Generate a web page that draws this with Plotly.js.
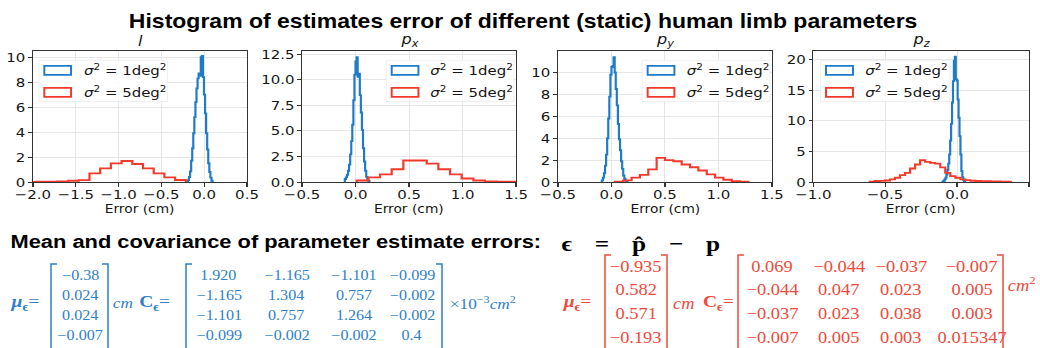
<!DOCTYPE html>
<html><head><meta charset="utf-8">
<script src="https://cdn.plot.ly/plotly-3.0.1.min.js"></script>
<style>
html,body{margin:0;padding:0;background:#fff;overflow:hidden;}
#chart{width:904px;height:348px;transform:scaleX(1.150442);transform-origin:0 0;}
</style></head><body><div id="chart"></div>
<script>
// ---------------- data ----------------
const mainTitle = 'Histogram of estimates error of different (static) human limb parameters';
const subTitles = ['<i>l</i>', '<i>p</i><sub><i>x</i></sub>', '<i>p</i><sub><i>y</i></sub>', '<i>p</i><sub><i>z</i></sub>'];
const legendLabels = ['<i>σ</i><sup>2</sup> = 1deg<sup>2</sup>', '<i>σ</i><sup>2</sup> = 5deg<sup>2</sup>'];
const xAxisTitle = 'Error (cm)';

// l
const lBlueEdges = [-0.19,-0.1775,-0.165,-0.1525,-0.14,-0.1275,-0.115,-0.1025,-0.09,-0.0775,-0.065,-0.0525,-0.04,-0.0275,-0.015,-0.0025,0.01,0.0225,0.035,0.0475,0.06,0.0725,0.085,0.0975];
const lBlueDens  = [0.15,0.4,0.85,1.7,2.7,3.9,5.2,6.4,7.5,8.3,8.7,8.5,10.0,10.1,8.4,7.0,5.5,3.9,2.6,1.5,0.8,0.35,0.1];
const lRedEdges  = [-2.09,-1.965,-1.84,-1.715,-1.59,-1.465,-1.34,-1.215,-1.09,-0.965,-0.84,-0.715,-0.59,-0.465,-0.34,-0.215];
const lRedDens   = [0.01,0.02,0.03,0.05,0.1,0.15,0.69,1.09,1.49,1.68,1.44,1.09,0.69,0.37,0.16];
// p_x
const pxBlueEdges = [-0.10,-0.09,-0.08,-0.07,-0.06,-0.05,-0.04,-0.03,-0.02,-0.01,0.00,0.01,0.02,0.03,0.04,0.05,0.06,0.07,0.08,0.09,0.10,0.11,0.12,0.13];
const pxBlueDens  = [0.3,0.45,0.7,1.1,1.7,2.7,4.0,5.6,8.0,10.5,11.8,12.2,10.3,10.6,8.5,6.8,5.1,3.3,2.0,1.1,0.5,0.25,0.1];
const pxRedEdges  = [0.011,0.12,0.229,0.338,0.447,0.556,0.665,0.774,0.883,0.992,1.101,1.21,1.319,1.428,1.537];
const pxRedDens   = [0.15,0.45,0.75,1.25,2.1,2.1,1.8,1.25,0.75,0.35,0.15,0.06,0.04,0.02];
// p_y
const pyBlueEdges = [-0.09,-0.08,-0.07,-0.06,-0.05,-0.04,-0.03,-0.02,-0.01,0.00,0.01,0.02,0.03,0.04,0.05,0.06,0.07,0.08,0.09,0.10,0.11,0.12,0.13,0.14,0.15];
const pyBlueDens  = [0.15,0.4,0.8,1.5,2.5,4.0,5.8,7.8,9.8,10.5,10.6,11.4,10.0,8.5,7.0,5.3,3.9,2.9,1.9,1.2,0.6,0.3,0.12,0.05];
const pyRedEdges  = [0.032,0.11,0.188,0.266,0.344,0.422,0.5,0.578,0.656,0.734,0.812,0.89,0.968,1.046,1.124,1.202,1.28];
const pyRedDens   = [0.03,0.15,0.4,0.65,1.15,2.2,2.0,1.9,1.6,1.35,1.05,0.7,0.4,0.2,0.08,0.03];
// p_z
const pzBlueEdges = [-0.1,-0.0935,-0.087,-0.0805,-0.074,-0.0675,-0.061,-0.0545,-0.048,-0.0415,-0.035,-0.0285,-0.022,-0.0155,-0.009,-0.0025,0.004,0.0105,0.017,0.0235,0.03,0.0365,0.043,0.0495,0.056];
const pzBlueDens  = [0.1,0.2,0.4,0.7,1.2,2.0,3.0,4.5,6.8,9.5,13.0,16.5,19.8,20.5,16.8,16.6,13.5,10.5,7.5,4.5,1.8,0.8,0.3,0.08];
const pzRedEdges  = [-0.607,-0.572,-0.537,-0.502,-0.467,-0.432,-0.397,-0.362,-0.327,-0.292,-0.257,-0.222,-0.187,-0.152,-0.117,-0.082,-0.047,-0.012,0.023,0.058,0.093,0.128,0.163,0.198,0.233,0.268,0.303,0.338,0.373];
const pzRedDens   = [0.03,0.16,0.18,0.25,0.43,0.7,1.13,1.5,2.2,2.86,3.55,3.3,3.13,3.0,2.4,1.5,0.97,0.7,0.43,0.3,0.2,0.16,0.14,0.12,0.1,0.08,0.06,0.04];

const xRanges = [[-2.0,0.5],[-0.5,1.5],[-0.5,1.5],[-1.0,0.5]];
const yRanges = [[0,10.48],[0,12.8],[0,11.95],[0,21.4]];
const yDticks = [2, 2.5, 2, 5];
const yFormats = ['d', '.1f', 'd', 'd'];

// equations
const header2 = 'Mean and covariance of parameter estimate errors:';
const header2Eq = '<b>ϵ\u2002\u2009\u2009=\u2002\u2009\u2009p\u0302\u2002\u2009\u2009−\u2002\u2009\u2009p</b>';
const muBlue  = ['−0.38','0.024','0.024','−0.007'];
const covBlue = [['1.920','−1.165','−1.101','−0.099'],
                 ['−1.165','1.304','0.757','−0.002'],
                 ['−1.101','0.757','1.264','−0.002'],
                 ['−0.099','−0.002','−0.002','0.4']];
const muRed   = ['−0.935','0.582','0.571','−0.193'];
const covRed  = [['0.069','−0.044','−0.037','−0.007'],
                 ['−0.044','0.047','0.023','0.005'],
                 ['−0.037','0.023','0.038','0.003'],
                 ['−0.007','0.005','0.003','0.015347']];
const muLabel  = '<b><i>μ</i></b><sub><b>ϵ</b></sub>=';
const covLabel = '<b>C</b><sub><b>ϵ</b></sub>=';
const unitMu   = '<i>cm</i>';
const unitCovBlue = '×10<sup>−3</sup><i>cm</i><sup>2</sup>';
const unitCovRed  = '<i>cm</i><sup>2</sup>';

// ---------------- style ----------------
const BLUE = '#1f7bc9', RED = '#f2392b';
const MBLUE = '#2d80c8', MRED = '#f04a3a';
const TXT = '#151515';
const FW = 1040, FH = 348;
const X = px => px / FW;
const Y = py => 1 - py / FH;
const xDomains = [[0.0317,0.2375],[0.2904,0.4962],[0.5365,0.7423],[0.7820,0.9894]];
const yDomain = [0.477, 0.853];
const legendX0 = [0.053, 0.419, 0.419, 0.059];

const blueSets = [[lBlueEdges,lBlueDens],[pxBlueEdges,pxBlueDens],[pyBlueEdges,pyBlueDens],[pzBlueEdges,pzBlueDens]];
const redSets  = [[lRedEdges,lRedDens],[pxRedEdges,pxRedDens],[pyRedEdges,pyRedDens],[pzRedEdges,pzRedDens]];

function stepTrace(edges, vals, color, i) {
  return {
    type: 'scatter', mode: 'lines',
    x: [edges[0]].concat(edges),
    y: [0].concat(vals, [0]),
    xaxis: i === 0 ? 'x' : 'x' + (i + 1),
    yaxis: i === 0 ? 'y' : 'y' + (i + 1),
    line: {color: color, width: 1.9, shape: 'hv'},
    hoverinfo: 'skip'
  };
}

const data = [];
for (let i = 0; i < 4; i++) {
  data.push(stepTrace(blueSets[i][0], blueSets[i][1], BLUE, i));
  data.push(stepTrace(redSets[i][0], redSets[i][1], RED, i));
}

const tickFont = {family: 'DejaVu Sans', size: 13, color: TXT};
const layout = {
  width: 904, height: 348,
  margin: {l: 0, r: 0, t: 0, b: 0},
  paper_bgcolor: '#fff', plot_bgcolor: '#fff',
  showlegend: false,
  title: {text: '<b>' + mainTitle + '</b>', x: 0.503, xanchor: 'center', y: Y(21), yanchor: 'middle',
          font: {family: 'Liberation Sans', size: 20, color: '#000'}},
  annotations: [], shapes: []
};

for (let i = 0; i < 4; i++) {
  const sx = i === 0 ? '' : String(i + 1);
  layout['xaxis' + sx] = {
    domain: xDomains[i], anchor: 'y' + sx, range: xRanges[i], dtick: 0.5, tick0: 0,
    tickformat: '.1f', showgrid: true, gridcolor: '#e2e2e2', gridwidth: 0.8,
    showline: true, mirror: true, linecolor: '#333', linewidth: 1,
    ticks: 'outside', ticklen: 4, tickwidth: 1, tickcolor: '#333', ticklabelstandoff: -4,
    zeroline: false, tickfont: tickFont, fixedrange: true
  };
  layout['yaxis' + sx] = {
    domain: yDomain, anchor: 'x' + sx, range: yRanges[i], dtick: yDticks[i], tick0: 0,
    tickformat: yFormats[i], showgrid: true, gridcolor: '#e2e2e2', gridwidth: 0.8,
    showline: true, mirror: true, linecolor: '#333', linewidth: 1,
    ticks: 'outside', ticklen: 3, tickwidth: 1, tickcolor: '#333',
    zeroline: false, tickfont: tickFont, fixedrange: true
  };
  const xr = 'x' + sx + ' domain', yr = 'y' + sx + ' domain';
  // subplot title
  layout.annotations.push({text: subTitles[i], xref: xr, yref: yr, x: 0.5, y: 1.0, yshift: 0,
    xanchor: 'center', yanchor: 'bottom', showarrow: false,
    font: {family: 'DejaVu Sans', size: 14, color: TXT}});
  // x axis title
  layout.annotations.push({text: xAxisTitle, xref: xr, yref: 'paper', x: 0.5, y: Y(209),
    xanchor: 'center', yanchor: 'middle', showarrow: false,
    font: {family: 'DejaVu Sans', size: 12, color: TXT}});
  // legend
  const lx = legendX0[i];
  layout.shapes.push({type: 'rect', xref: xr, yref: yr, x0: lx - 0.025, x1: Math.min(lx + 0.575, 0.99),
    y0: 0.615, y1: 0.93, fillcolor: 'rgba(255,255,255,0.85)', line: {color: '#ececec', width: 0.8}, layer: 'above'});
  const cols = [BLUE, RED];
  const ys = [[0.819, 0.888], [0.651, 0.72]];
  for (let k = 0; k < 2; k++) {
    layout.shapes.push({type: 'rect', xref: xr, yref: yr, x0: lx, x1: lx + 0.125,
      y0: ys[k][0], y1: ys[k][1], line: {color: cols[k], width: 1.7}, fillcolor: 'rgba(0,0,0,0)', layer: 'above'});
    layout.annotations.push({text: legendLabels[k], xref: xr, yref: yr, x: lx + 0.172,
      y: (ys[k][0] + ys[k][1]) / 2, xanchor: 'left', yanchor: 'middle', showarrow: false,
      font: {family: 'DejaVu Sans', size: 13, color: TXT}});
  }
}

// ---- equations section ----
function txt(text, px, py, anchor, font) {
  layout.annotations.push({text: text, xref: 'paper', yref: 'paper', x: X(px), y: Y(py),
    xanchor: anchor, yanchor: 'middle', showarrow: false, font: font});
}
function bracket(px, top, bottom, side, color) {
  const d = side === 'L' ? 6 : -6;
  layout.shapes.push({type: 'path', xref: 'paper', yref: 'paper',
    path: 'M' + X(px + d) + ',' + Y(top) + ' L' + X(px) + ',' + Y(top) + ' L' + X(px) + ',' + Y(bottom) + ' L' + X(px + d) + ',' + Y(bottom),
    line: {color: color, width: 1.3}});
}
txt('<b>' + header2 + '</b>', 8, 241, 'left', {family: 'Liberation Sans', size: 19, color: '#000'});
txt(header2Eq, 559, 243, 'left', {family: 'Liberation Serif, DejaVu Serif', size: 22, color: '#000'});

function equationBlock(mu, cov, unitCov, col, geo) {
  const fLab = {family: 'Liberation Serif, DejaVu Serif', size: geo.labSize, color: col};
  const fUnit = {family: 'Liberation Serif, DejaVu Serif', size: geo.unitSize, color: col};
  const fNum = {family: 'Liberation Serif, DejaVu Serif', size: geo.numSize, color: col};
  txt(muLabel, geo.muLabX, geo.labY, 'left', fLab);
  bracket(geo.muBr[0], geo.brTop, 352, 'L', col);
  bracket(geo.muBr[1], geo.brTop, 352, 'R', col);
  for (let r = 0; r < 4; r++) txt(mu[r], geo.muColX, geo.rows[r], 'center', fNum);
  txt(unitMu, geo.cmX, geo.labY, 'left', fUnit);
  txt(covLabel, geo.cLabX, geo.labY, 'left', fLab);
  bracket(geo.cBr[0], geo.brTop, 352, 'L', col);
  bracket(geo.cBr[1], geo.brTop, 352, 'R', col);
  for (let r = 0; r < 4; r++)
    for (let c = 0; c < 4; c++) txt(cov[r][c], geo.cCols[c], geo.rows[r], 'center', fNum);
  txt(unitCov, geo.unitX, geo.unitY, 'left', fUnit);
}
equationBlock(muBlue, covBlue, unitCovBlue, MBLUE, {
  labSize: 17, unitSize: 15, numSize: 14, labY: 303, muLabX: 8, muBr: [51, 108], brTop: 264, muColX: 80,
  rows: [275, 295, 315, 335], cmX: 111, cLabX: 137, cBr: [186, 442], cCols: [219, 287, 354, 412],
  unitX: 447, unitY: 303
});
equationBlock(muRed, covRed, unitCovRed, MRED, {
  labSize: 17, unitSize: 16, numSize: 16, labY: 303, muLabX: 560, muBr: [605, 667], brTop: 255, muColX: 636,
  rows: [266, 289, 313, 337], cmX: 671, cLabX: 701, cBr: [738, 1003], cCols: [772, 839, 901, 972],
  unitX: 1006, unitY: 284
});

Plotly.newPlot('chart', data, layout, {staticPlot: true, displayModeBar: false});
</script></body></html>
